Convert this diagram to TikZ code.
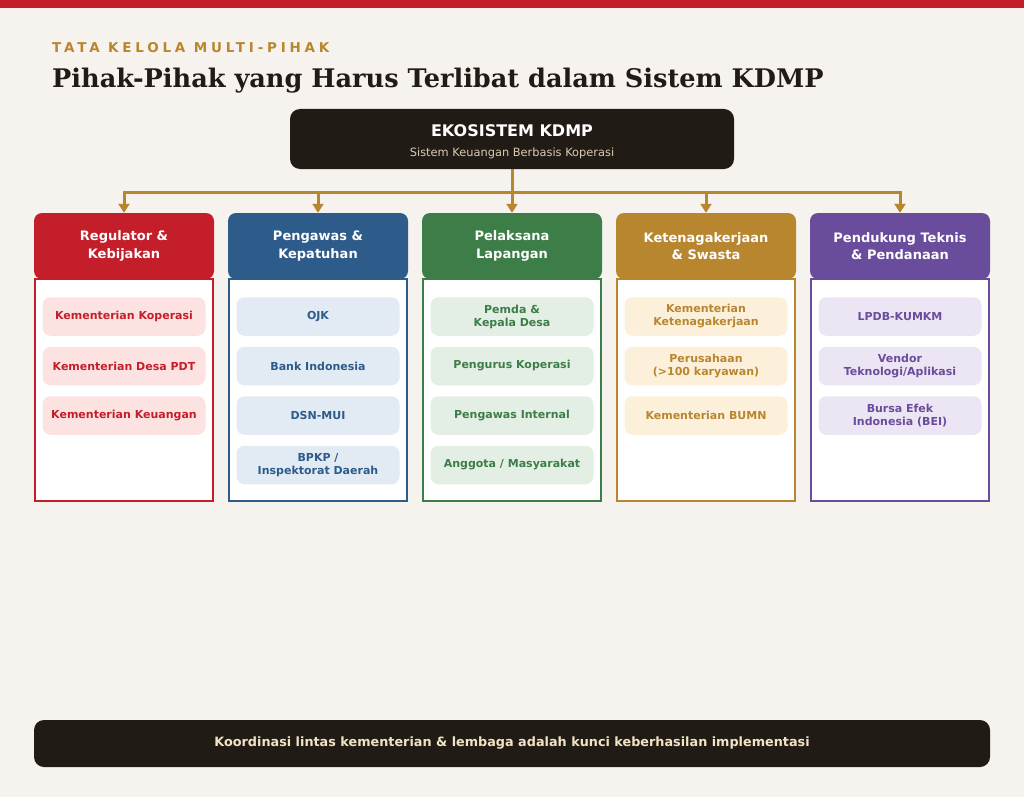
\documentclass[tikz,border=0pt]{standalone}
\usepackage{fontspec}
\setmainfont{DejaVu Sans}
\newfontfamily\titlefont{DejaVu Serif}
\newfontfamily\kickerfont[LetterSpace=28]{DejaVu Sans}
\usetikzlibrary{arrows.meta}
\definecolor{bg}{HTML}{F6F3EE}
\definecolor{topred}{HTML}{C41E2A}
\definecolor{dark}{HTML}{211B15}
\definecolor{gold}{HTML}{B8862E}
\definecolor{cream}{HTML}{F2E3C6}
\definecolor{subcream}{HTML}{D9CBB0}
\definecolor{cred}{HTML}{C41E2A}
\definecolor{lred}{HTML}{FCE3E1}
\definecolor{cblue}{HTML}{2D5B8A}
\definecolor{lblue}{HTML}{E2EBF4}
\definecolor{cgreen}{HTML}{3D7D47}
\definecolor{lgreen}{HTML}{E3EEE5}
\definecolor{cgold}{HTML}{B8862E}
\definecolor{lgold}{HTML}{FCF0DB}
\definecolor{cpurple}{HTML}{6A4C9C}
\definecolor{lpurple}{HTML}{ECE5F3}
\tikzset{
  hdr/.style={fill=#1, rounded corners=8pt, minimum width=180pt, minimum height=66pt,
    inner sep=0pt, text=white, align=center, font=\bfseries\fontsize{13}{17.5}\selectfont},
  bodybox/.style={draw=#1, line width=1.8pt, fill=white},
  item/.style={fill=#1, rounded corners=8pt, minimum width=163pt, minimum height=38.5pt,
    inner sep=0pt, align=center, font=\bfseries\fontsize{11}{13}\selectfont},
  conn/.style={draw=gold, line width=3pt},
  arr/.style={conn, -{Triangle[width=11pt,length=9pt]}},
}
\begin{document}
\begin{tikzpicture}[x=1pt,y=-1pt]
\fill[bg] (0,0) rectangle (1024,797);
\useasboundingbox (0,0) rectangle (1024,797);
\fill[topred] (0,0) rectangle (1024,8);

\node[anchor=base west, inner sep=0pt, text=gold, font=\kickerfont\bfseries\fontsize{13.5}{15}\selectfont] (kicker) at (52,53) {TATA KELOLA MULTI-PIHAK};
\node[anchor=base west, inner sep=0pt, text=dark, font=\titlefont\bfseries\fontsize{25.6}{30}\selectfont] (title) at (52,88) {Pihak-Pihak yang Harus Terlibat dalam Sistem KDMP};

\node[fill=dark, rounded corners=10pt, minimum width=444pt, minimum height=60pt, inner sep=0pt] (eco) at (512,139) {};
\node[text=white, font=\bfseries\fontsize{16}{18}\selectfont, inner sep=0pt] (ecot) at (512,130.5) {EKOSISTEM KDMP};
\node[text=subcream, font=\fontsize{11.4}{13}\selectfont, inner sep=0pt] (ecos) at (512,153.5) {Sistem Keuangan Berbasis Koperasi};

% columns
\foreach \i/\cx/\col/\lt in {1/124/cred/lred,2/318/cblue/lblue,3/512/cgreen/lgreen,4/706/cgold/lgold,5/900/cpurple/lpurple}{
  \draw[bodybox=\col] (\cx-89,279) rectangle (\cx+89,501);
}
\node[hdr=cred] (h1) at (124,246) {Regulator \&\\Kebijakan};
\node[hdr=cblue] (h2) at (318,246) {Pengawas \&\\Kepatuhan};
\node[hdr=cgreen] (h3) at (512,246) {Pelaksana\\Lapangan};
\node[hdr=cgold] (h4) at (706,246) {Ketenagakerjaan\\\& Swasta};
\node[hdr=cpurple] (h5) at (900,246) {Pendukung Teknis\\\& Pendanaan};

% connectors
\coordinate (bus) at (512,192);
\draw[conn] (eco.south) -- (bus);
\draw[conn, line cap=rect] (h1.north |- bus) -- (h5.north |- bus);
\foreach \h in {h1,h2,h3,h4,h5}{
  \draw[arr] (\h.north |- bus) -- (\h.north);
}

% items
\node[item=lred, text=cred] (a1) at (124,316.5) {Kementerian Koperasi};
\node[item=lred, text=cred] (a2) at (124,366) {Kementerian Desa PDT};
\node[item=lred, text=cred] (a3) at (124,415.5) {Kementerian Keuangan};

\node[item=lblue, text=cblue] (b1) at (318,316.5) {OJK};
\node[item=lblue, text=cblue] (b2) at (318,366) {Bank Indonesia};
\node[item=lblue, text=cblue] (b3) at (318,415.5) {DSN-MUI};
\node[item=lblue, text=cblue] (b4) at (318,465) {BPKP /\\Inspektorat Daerah};

\node[item=lgreen, text=cgreen] (c1) at (512,316.5) {Pemda \&\\Kepala Desa};
\node[item=lgreen, text=cgreen] (c2) at (512,366) {Pengurus Koperasi};
\node[item=lgreen, text=cgreen] (c3) at (512,415.5) {Pengawas Internal};
\node[item=lgreen, text=cgreen] (c4) at (512,465) {Anggota / Masyarakat};

\node[item=lgold, text=cgold] (d1) at (706,316.5) {Kementerian\\Ketenagakerjaan};
\node[item=lgold, text=cgold] (d2) at (706,366) {Perusahaan\\(>100 karyawan)};
\node[item=lgold, text=cgold] (d3) at (706,415.5) {Kementerian BUMN};

\node[item=lpurple, text=cpurple] (e1) at (900,316.5) {LPDB-KUMKM};
\node[item=lpurple, text=cpurple] (e2) at (900,366) {Vendor\\Teknologi/Aplikasi};
\node[item=lpurple, text=cpurple] (e3) at (900,415.5) {Bursa Efek\\Indonesia (BEI)};

% footer
\node[fill=dark, rounded corners=10pt, minimum width=956pt, minimum height=47pt, inner sep=0pt,
  text=cream, font=\bfseries\fontsize{12.8}{14}\selectfont] (foot) at (512,743.5)
  {Koordinasi lintas kementerian \& lembaga adalah kunci keberhasilan implementasi};
\end{tikzpicture}
\end{document}
